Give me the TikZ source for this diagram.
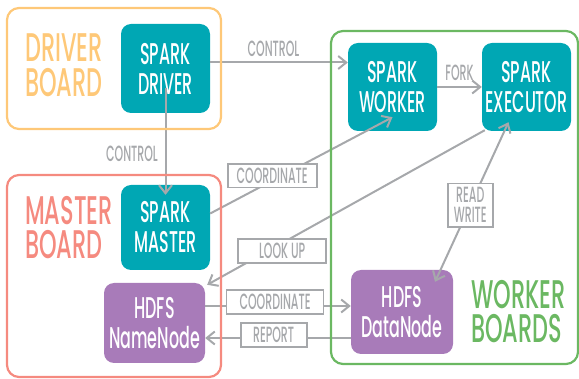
\documentclass[tikz,border=0pt]{standalone}
\usepackage{fontspec}
\setmainfont{Poppins}
\newfontfamily\boardfont[FakeStretch=0.56]{Poppins Medium}
\newfontfamily\unitfont[FakeStretch=0.53]{Poppins Medium}
\newfontfamily\tagfont[FakeStretch=0.5]{Poppins Medium}
\usetikzlibrary{arrows.meta}

\definecolor{sparkteal}{HTML}{00A7B4}
\definecolor{hdfspurple}{HTML}{A87BB9}
\definecolor{driverorange}{HTML}{FEC878}
\definecolor{mastersalmon}{HTML}{F58A7F}
\definecolor{workergreen}{HTML}{6BB862}
\definecolor{linkgray}{HTML}{A6A8AB}

\tikzset{
  board/.style={line width=2.2pt, rounded corners=12pt},
  unit/.style={rounded corners=10pt, text=white, align=center,
    font=\unitfont\fontsize{30}{30}\selectfont, inner sep=0pt},
  boardlabel/.style={anchor=base west, inner sep=0pt, text height=28pt, text depth=1pt,
    font=\boardfont\fontsize{40}{40}\selectfont},
  link/.style={draw=linkgray, line width=2pt,
    -{Straight Barb[length=8pt,width=13pt]}},
  bothlink/.style={draw=linkgray, line width=2pt,
    {Straight Barb[length=8pt,width=13pt]}-{Straight Barb[length=8pt,width=13pt]}},
  tag/.style={draw=linkgray, line width=1.8pt, fill=white, text=linkgray,
    font=\tagfont\fontsize{22}{20}\selectfont, align=center, inner xsep=6pt, inner ysep=4pt},
  plaintag/.style={text=linkgray, font=\tagfont\fontsize{22}{20}\selectfont, inner sep=2pt}
}

\begin{document}
\begin{tikzpicture}[x=1pt, y=-1pt]
  \useasboundingbox (0,0) rectangle (579,379);

  % processing units
  \node[unit, fill=sparkteal, minimum width=89pt, minimum height=89pt]
    (driver) at (165.5,68.5) {SPARK\\DRIVER};
  \node[unit, fill=sparkteal, minimum width=89pt, minimum height=85pt]
    (master) at (165.5,227.5) {SPARK\\MASTER};
  \node[unit, fill=hdfspurple, minimum width=101pt, minimum height=80pt]
    (namenode) at (154.5,323) {HDFS\\NameNode};
  \node[unit, fill=sparkteal, minimum width=89pt, minimum height=88pt]
    (worker) at (392.5,87) {SPARK\\WORKER};
  \node[unit, fill=sparkteal, minimum width=89pt, minimum height=88pt]
    (executor) at (526.5,87) {SPARK\\EXECUTOR};
  \node[unit, fill=hdfspurple, minimum width=102pt, minimum height=84pt]
    (datanode) at (402,312) {HDFS\\DataNode};

  % connectors
  \draw[link] ([yshift=6pt]driver.east) -- ([yshift=6pt]driver.east -| worker.west)
    node[plaintag, pos=0.46, above=3pt] {CONTROL};
  \draw[link, shorten <=20pt, shorten >=-10pt] (driver.center) -- (master.north);
  \node[plaintag] (ctrl2) at (132,154) {CONTROL};
  \draw[link] (worker.east) -- (worker.east -| executor.west)
    node[plaintag, midway, above=3pt] {FORK};
  \draw[link] ([yshift=14pt]master.east) -- ([yshift=14pt]worker.south)
    node[tag, pos=0.34, yshift=5pt, minimum width=89pt] {COORDINATE};
  \draw[link] ([shift={(3pt,1pt)}]executor.south west) -- ([shift={(2pt,-2pt)}]namenode.north east)
    node[tag, pos=0.73, yshift=-8pt, minimum width=88pt] {LOOK UP};
  \draw[bothlink] ([shift={(33pt,-12pt)}]datanode.north) -- ([shift={(-18pt,9pt)}]executor.south)
    node[tag, pos=0.48] {READ\\WRITE};
  \draw[link] ([yshift=17pt]namenode.east) -- ([yshift=17pt]namenode.east -| datanode.west)
    node[tag, pos=0.48, yshift=4pt, minimum width=97pt] {COORDINATE};
  \draw[link] ([yshift=-26pt]datanode.west) -- ([yshift=-26pt]datanode.west -| namenode.east)
    node[tag, pos=0.53, yshift=3pt, minimum width=66pt] {REPORT};

  % boards
  \draw[board, draw=driverorange] (7,8) rectangle (221,129);
  \draw[board, draw=mastersalmon] (7,175) rectangle (221,377);
  \draw[board, draw=workergreen] (331,31) rectangle (578,364);

  \node[boardlabel, text=driverorange] (driverlbl1) at (25,62) {DRIVER};
  \node[boardlabel, text=driverorange] (driverlbl2) at (25,97) {BOARD};
  \node[boardlabel, text=mastersalmon] (masterlbl1) at (25,225) {MASTER};
  \node[boardlabel, text=mastersalmon] (masterlbl2) at (25,259) {BOARD};
  \node[boardlabel, text=workergreen] (workerlbl1) at (471,309) {WORKER};
  \node[boardlabel, text=workergreen] (workerlbl2) at (471,343) {BOARDS};
\end{tikzpicture}
\end{document}
